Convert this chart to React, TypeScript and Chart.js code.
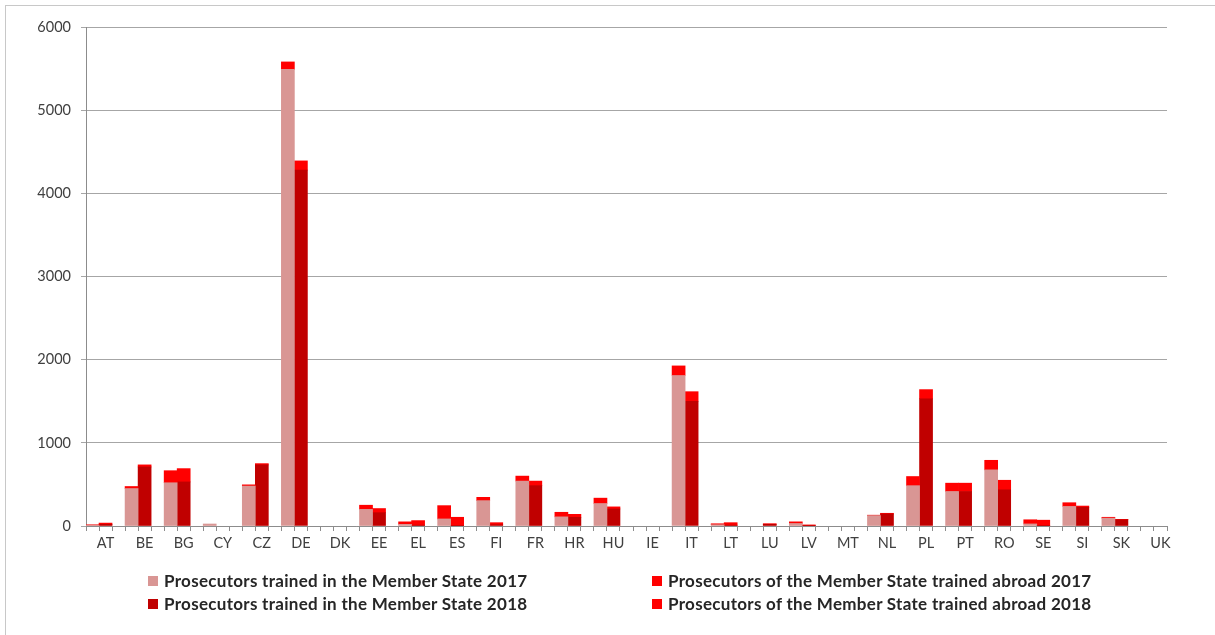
import React, { useEffect, useRef } from "react";
import { Chart, registerables } from "chart.js";

Chart.register(...registerables);

const countries = ["AT","BE","BG","CY","CZ","DE","DK","EE","EL","ES","FI","FR","HR","HU","IE","IT","LT","LU","LV","MT","NL","PL","PT","RO","SE","SI","SK","UK"];
const inMS2017 = [10, 450, 520, 24, 480, 5490, 0, 200, 20, 85, 305, 540, 110, 270, 0, 1810, 15, 0, 30, 0, 125, 485, 415, 675, 25, 235, 95, 0];
const abroad2017 = [5, 25, 145, 0, 15, 90, 0, 50, 30, 160, 40, 60, 55, 65, 0, 115, 12, 0, 20, 0, 5, 110, 100, 115, 50, 45, 10, 0];
const inMS2018 = [20, 710, 530, 0, 735, 4280, 0, 160, 10, 5, 15, 485, 105, 205, 0, 1500, 10, 20, 5, 0, 145, 1530, 415, 435, 5, 225, 75, 0];
const abroad2018 = [15, 25, 160, 0, 15, 110, 0, 50, 55, 100, 25, 55, 35, 25, 0, 115, 30, 8, 8, 0, 8, 110, 100, 115, 65, 15, 5, 0];
const yTicks = [0, 1000, 2000, 3000, 4000, 5000, 6000];

const seriesNames = [
  "Prosecutors trained in the Member State 2017",
  "Prosecutors of the Member State trained abroad 2017",
  "Prosecutors trained in the Member State 2018",
  "Prosecutors of the Member State trained abroad 2018",
];
const seriesColors = ["#D99694", "#FF0000", "#C00000", "#FF0000"];

export default function App() {
  const ref = useRef<HTMLCanvasElement | null>(null);

  useEffect(() => {
    const n = countries.length;
    const slots = n * 3 - 1;
    const labels: string[] = [];
    const d0: (number | null)[] = [];
    const d1: (number | null)[] = [];
    const d2: (number | null)[] = [];
    const d3: (number | null)[] = [];
    const nz = (v: number) => (v ? v : null);
    for (let s = 0; s < slots; s++) {
      const i = Math.floor(s / 3);
      const k = s % 3;
      labels.push(k === 1 ? countries[i] : "");
      d0.push(k === 0 ? nz(inMS2017[i]) : null);
      d1.push(k === 0 ? nz(abroad2017[i]) : null);
      d2.push(k === 1 ? nz(inMS2018[i]) : null);
      d3.push(k === 1 ? nz(abroad2018[i]) : null);
    }
    const datas = [d0, d1, d2, d3];
    const chart = new Chart(ref.current!, {
      type: "bar",
      data: {
        labels,
        datasets: datas.map((d, j) => ({
          label: seriesNames[j],
          data: d,
          backgroundColor: seriesColors[j],
          borderWidth: 0,
          barPercentage: 1,
          categoryPercentage: 1,
        })),
      },
      options: {
        responsive: false,
        animation: false,
        events: [],
        layout: { padding: { top: 27, right: 48, bottom: 79, left: 0 } },
        plugins: { legend: { display: false }, tooltip: { enabled: false } },
        scales: {
          x: {
            stacked: true,
            afterFit: (s: any) => { s.height = 30; },
            grid: { display: true, drawOnChartArea: false, drawTicks: true, tickLength: 5, color: "#8c8c8c", offset: true },
            border: { display: true, color: "#8c8c8c" },
            ticks: { autoSkip: false, maxRotation: 0, minRotation: 0, padding: 4, color: "#404040", font: { family: "Lato", size: 14.5 } },
          },
          y: {
            stacked: true,
            min: 0,
            max: 6000,
            afterFit: (s: any) => { s.width = 86; },
            afterBuildTicks: (s: any) => { s.ticks = yTicks.map((v) => ({ value: v })); },
            grid: { color: "#a6a6a6", drawTicks: true, tickLength: 5 },
            border: { display: true, color: "#8c8c8c" },
            ticks: { padding: 10, color: "#404040", font: { family: "Lato", size: 14.5 }, callback: (v: any) => String(v) },
          },
        },
      },
    });
    return () => chart.destroy();
  }, []);

  const legendItem = (j: number, left: number, top: number) => (
    <div key={j} style={{ position: "absolute", left, top, height: 20, display: "flex", alignItems: "center", whiteSpace: "nowrap" }}>
      <span style={{ display: "inline-block", width: 10, height: 10, background: seriesColors[j], marginRight: 6 }} />
      <span style={{ fontFamily: "Lato", fontWeight: 700, fontSize: 17, letterSpacing: 0.3, color: "#262626", lineHeight: "20px" }}>{seriesNames[j]}</span>
    </div>
  );

  return (
    <div style={{ position: "fixed", left: 0, top: 0, width: 1215, height: 635, background: "#fff", overflow: "hidden" }}>
      <div style={{ position: "absolute", left: 5, top: 5, width: 1400, height: 800, border: "1px solid #c8c8c8" }} />
      <canvas ref={ref} width={1215} height={635} style={{ position: "absolute", left: 0, top: 0 }} />
      {legendItem(0, 148, 571)}
      {legendItem(2, 148, 594)}
      {legendItem(1, 652, 571)}
      {legendItem(3, 652, 594)}
    </div>
  );
}
